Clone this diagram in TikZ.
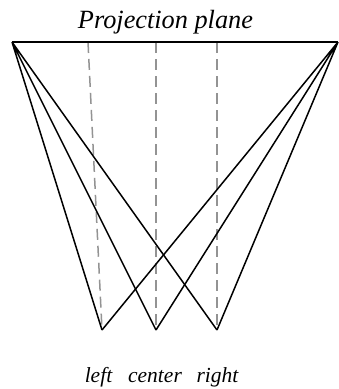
\documentclass[tikz,border=0pt]{standalone}
\usepackage{fontspec}
\setmainfont{Liberation Serif}
\begin{document}
\begin{tikzpicture}[x=1pt,y=-1pt,
  solidline/.style={line width=1.5pt,black},
  dashline/.style={line width=1.5pt,gray!85,dash pattern=on 11pt off 6pt},
  lab/.style={font=\itshape\fontsize{21.5}{21.5}\selectfont,anchor=base,inner sep=0pt}]
\useasboundingbox (0,0) rectangle (339,389);
\coordinate (TL) at (12,42);
\coordinate (TR) at (338,42);
\coordinate (L) at (102,330);
\coordinate (C) at (156,330);
\coordinate (R) at (217,330);
\coordinate (DL) at (88,42);
\coordinate (DC) at (156,42);
\coordinate (DR) at (217,42);
\draw[dashline] (DL) -- (L);
\draw[dashline] (DC) -- (C);
\draw[dashline] (DR) -- (R);
\draw[solidline] (TL) -- (TR);
\draw[solidline] (TL) -- (L) (TL) -- (C) (TL) -- (R);
\draw[solidline] (TR) -- (L) (TR) -- (C) (TR) -- (R);
\node[lab,font=\itshape\fontsize{26.3}{26.3}\selectfont] (title) at (165.5,28) {Projection plane};
\node[lab] (lleft) at (98.5,382) {left};
\node[lab] (lcenter) at (155,382) {center};
\node[lab] (lright) at (217.5,382) {right};
\end{tikzpicture}
\end{document}
